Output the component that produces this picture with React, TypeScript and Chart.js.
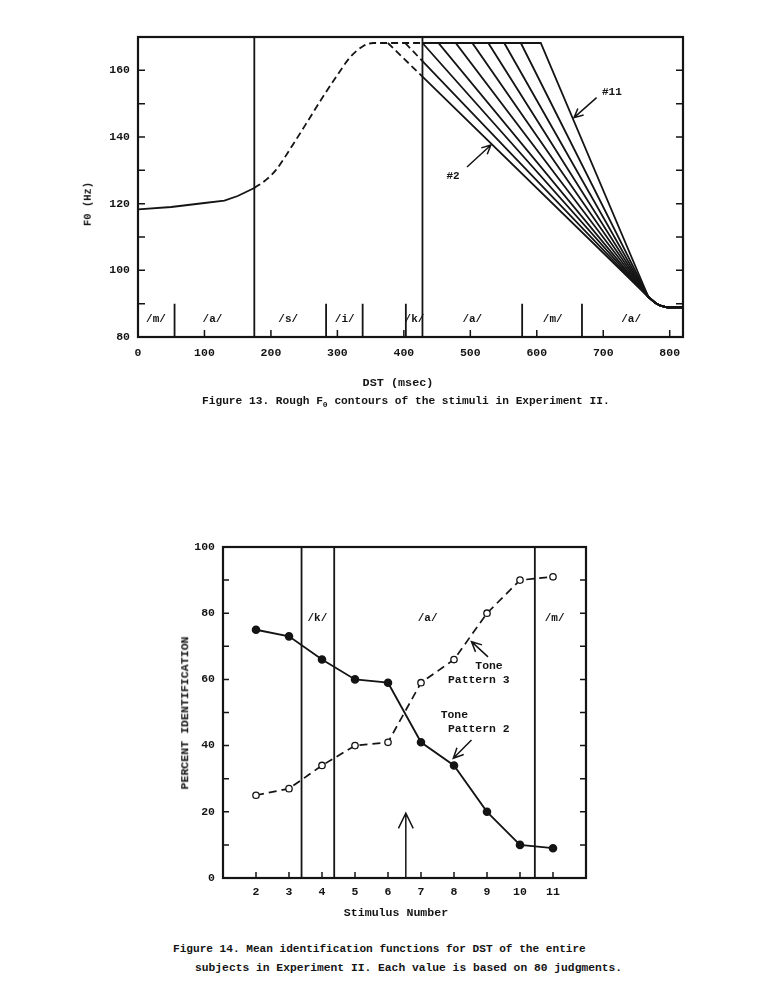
import React, { useEffect, useRef } from "react";
import { Chart, registerables } from "chart.js";

Chart.register(...registerables);

const FONT = "'Liberation Mono', 'DejaVu Sans Mono', monospace";
const INK = "#141414";

// ---------- Figure 13: rough F0 contours ----------
const f13XTicks = [0, 100, 200, 300, 400, 500, 600, 700, 800];
const f13XLabels = ["0", "100", "200", "300", "400", "500", "600", "700", "800"];
const f13YTicks = [80, 90, 100, 110, 120, 130, 140, 150, 160, 170];
const f13YLabels = ["80", "", "100", "", "120", "", "140", "", "160", ""];

const f13BaseX = [0, 50, 100, 130, 150, 175];
const f13BaseHz = [118.3, 119.0, 120.2, 120.9, 122.3, 124.7];

const f13RiseX = [175, 193, 208, 233, 254, 279, 299, 319, 339, 354, 428];
const f13RiseHz = [124.7, 127.2, 130.2, 137.7, 144.3, 152.3, 158.3, 163.9, 167.3, 168.2, 168.2];

const f13Stimuli = ["#2", "#3", "#4", "#5", "#6", "#7", "#8", "#9", "#10", "#11"];
const f13DeclineStart = [376, 402, 428, 452, 478, 503, 527, 551, 576, 606];
const f13PlateauHz = 168.2;
const f13DashUntil = 428;
const f13JoinX = 768;
const f13JoinHz = 92;
const f13TailX = [778, 786, 796, 820];
const f13TailHz = [90.3, 89.4, 88.9, 88.9];

const f13FullBounds = [175, 428];
const f13ShortBounds = [55, 283, 338, 403, 578, 668];
const f13ShortTopHz = 90;
const f13Segments = ["/m/", "/a/", "/s/", "/i/", "/k/", "/a/", "/m/", "/a/"];
const f13SegmentX = [27, 112, 226, 311, 416, 503, 624, 742];
const f13SegmentHz = 85.3;

const f13NoteText = ["#11", "#2"];
const f13NoteX = [713, 474];
const f13NoteHz = [153.5, 128.2];
const f13ArrowFromX = [690, 495];
const f13ArrowFromHz = [151.8, 131.0];
const f13ArrowToX = [656, 531];
const f13ArrowToHz = [145.8, 137.6];

// ---------- Figure 14: identification functions ----------
const f14Stimuli = [2, 3, 4, 5, 6, 7, 8, 9, 10, 11];
const f14Pattern2 = [75, 73, 66, 60, 59, 41, 34, 20, 10, 9];
const f14Pattern3 = [25, 27, 34, 40, 41, 59, 66, 80, 90, 91];
const f14XTicks = [2, 3, 4, 5, 6, 7, 8, 9, 10, 11];
const f14YTicks = [0, 10, 20, 30, 40, 50, 60, 70, 80, 90, 100];
const f14YLabels = ["0", "", "20", "", "40", "", "60", "", "80", "", "100"];
const f14Bounds = [3.38, 4.37, 10.45];
const f14Segments = ["/k/", "/a/", "/m/"];
const f14SegmentX = [3.86, 7.2, 11.05];
const f14SegmentPct = 78.4;
const f14NoteText = ["Tone", "Pattern 3", "Tone", "Pattern 2"];
const f14NoteX = [9.06, 8.75, 8.01, 8.75];
const f14NotePct = [64.0, 59.8, 49.2, 45.0];
const f14ArrowFromX = [9.03, 8.53, 6.54];
const f14ArrowFromPct = [66.8, 41.7, 0];
const f14ArrowToX = [8.53, 7.98, 6.54];
const f14ArrowToPct = [71.4, 36.2, 19.6];

function pts(xs: number[], ys: number[]) {
  return xs.map((x, i) => ({ x, y: ys[i] }));
}

function drawArrow(ctx: CanvasRenderingContext2D, x1: number, y1: number, x2: number, y2: number, head: number, spread: number) {
  const a = Math.atan2(y2 - y1, x2 - x1);
  ctx.beginPath();
  ctx.moveTo(x1, y1);
  ctx.lineTo(x2, y2);
  ctx.moveTo(x2 - head * Math.cos(a - spread), y2 - head * Math.sin(a - spread));
  ctx.lineTo(x2, y2);
  ctx.lineTo(x2 - head * Math.cos(a + spread), y2 - head * Math.sin(a + spread));
  ctx.stroke();
}

function frameAndTicks(chart: any, xTicks: number[], yTicks: number[], len: number) {
  const { ctx, chartArea: a, scales } = chart;
  ctx.save();
  ctx.strokeStyle = INK;
  ctx.lineWidth = 1.5;
  ctx.beginPath();
  yTicks.forEach((v) => {
    const py = scales.y.getPixelForValue(v);
    ctx.moveTo(a.left, py);
    ctx.lineTo(a.left + len, py);
    ctx.moveTo(a.right, py);
    ctx.lineTo(a.right - len, py);
  });
  xTicks.forEach((v) => {
    const px = scales.x.getPixelForValue(v);
    ctx.moveTo(px, a.bottom);
    ctx.lineTo(px, a.bottom - len);
  });
  ctx.stroke();
  ctx.lineWidth = 2.2;
  ctx.strokeRect(a.left, a.top, a.right - a.left, a.bottom - a.top);
  ctx.restore();
}

const f13Overlay = {
  id: "f13Overlay",
  beforeDatasetsDraw(chart: any) {
    const { ctx, chartArea: a, scales } = chart;
    ctx.save();
    ctx.strokeStyle = INK;
    ctx.lineWidth = 1.8;
    ctx.beginPath();
    f13FullBounds.forEach((v) => {
      const px = scales.x.getPixelForValue(v);
      ctx.moveTo(px, a.top);
      ctx.lineTo(px, a.bottom);
    });
    const topY = scales.y.getPixelForValue(f13ShortTopHz);
    f13ShortBounds.forEach((v) => {
      const px = scales.x.getPixelForValue(v);
      ctx.moveTo(px, topY);
      ctx.lineTo(px, a.bottom);
    });
    ctx.stroke();
    ctx.restore();
  },
  afterDraw(chart: any) {
    const { ctx, scales } = chart;
    frameAndTicks(chart, f13XTicks, f13YTicks, 7);
    ctx.save();
    ctx.fillStyle = INK;
    ctx.strokeStyle = INK;
    ctx.font = `bold 11px ${FONT}`;
    ctx.textAlign = "center";
    ctx.textBaseline = "middle";
    f13Segments.forEach((t, i) => {
      ctx.fillText(t, scales.x.getPixelForValue(f13SegmentX[i]), scales.y.getPixelForValue(f13SegmentHz));
    });
    f13NoteText.forEach((t, i) => {
      ctx.fillText(t, scales.x.getPixelForValue(f13NoteX[i]), scales.y.getPixelForValue(f13NoteHz[i]));
    });
    ctx.lineWidth = 1.5;
    f13ArrowFromX.forEach((_, i) => {
      drawArrow(
        ctx,
        scales.x.getPixelForValue(f13ArrowFromX[i]),
        scales.y.getPixelForValue(f13ArrowFromHz[i]),
        scales.x.getPixelForValue(f13ArrowToX[i]),
        scales.y.getPixelForValue(f13ArrowToHz[i]),
        10,
        0.45
      );
    });
    ctx.restore();
  },
};

const f14Overlay = {
  id: "f14Overlay",
  beforeDatasetsDraw(chart: any) {
    const { ctx, chartArea: a, scales } = chart;
    ctx.save();
    ctx.strokeStyle = INK;
    ctx.lineWidth = 1.8;
    ctx.beginPath();
    f14Bounds.forEach((v) => {
      const px = scales.x.getPixelForValue(v);
      ctx.moveTo(px, a.top);
      ctx.lineTo(px, a.bottom);
    });
    ctx.stroke();
    ctx.restore();
  },
  afterDraw(chart: any) {
    const { ctx, scales } = chart;
    frameAndTicks(chart, f14XTicks, f14YTicks, 6);
    ctx.save();
    ctx.fillStyle = INK;
    ctx.strokeStyle = INK;
    ctx.font = `bold 11px ${FONT}`;
    ctx.textAlign = "center";
    ctx.textBaseline = "middle";
    f14Segments.forEach((t, i) => {
      ctx.fillText(t, scales.x.getPixelForValue(f14SegmentX[i]), scales.y.getPixelForValue(f14SegmentPct));
    });
    ctx.font = `bold 11.4px ${FONT}`;
    f14NoteText.forEach((t, i) => {
      ctx.fillText(t, scales.x.getPixelForValue(f14NoteX[i]), scales.y.getPixelForValue(f14NotePct[i]));
    });
    ctx.lineWidth = 1.5;
    f14ArrowFromX.forEach((_, i) => {
      const big = i === 2;
      drawArrow(
        ctx,
        scales.x.getPixelForValue(f14ArrowFromX[i]),
        scales.y.getPixelForValue(f14ArrowFromPct[i]),
        scales.x.getPixelForValue(f14ArrowToX[i]),
        scales.y.getPixelForValue(f14ArrowToPct[i]),
        big ? 17 : 11,
        big ? 0.45 : 0.45
      );
    });
    ctx.restore();
  },
};

function contourPoints(start: number) {
  const out: { x: number; y: number }[] = [];
  if (start < f13DashUntil) {
    const crossHz = f13PlateauHz + ((f13JoinHz - f13PlateauHz) * (f13DashUntil - start)) / (f13JoinX - start);
    out.push({ x: start, y: f13PlateauHz }, { x: f13DashUntil, y: crossHz });
  } else {
    out.push({ x: f13DashUntil, y: f13PlateauHz });
    if (start > f13DashUntil) out.push({ x: start, y: f13PlateauHz });
  }
  out.push({ x: f13JoinX, y: f13JoinHz });
  return out.concat(pts(f13TailX, f13TailHz));
}

function fig13Config(): any {
  const lineBase = { borderColor: INK, borderWidth: 1.8, pointRadius: 0, tension: 0, fill: false };
  const datasets: any[] = [
    { ...lineBase, label: "base", data: pts(f13BaseX, f13BaseHz) },
    { ...lineBase, label: "rise", data: pts(f13RiseX, f13RiseHz), borderDash: [7, 4], cubicInterpolationMode: "monotone" },
  ];
  f13Stimuli.forEach((name, i) => {
    datasets.push({
      ...lineBase,
      label: name,
      data: contourPoints(f13DeclineStart[i]),
      borderDash: [],
      segment: {
        borderDash: (c: any) => (c.p1.parsed.x <= f13DashUntil + 0.01 ? [7, 4] : undefined),
      },
    });
  });
  return {
    type: "line",
    data: { datasets },
    options: {
      responsive: false,
      animation: false,
      events: [],
      layout: { padding: { left: 0, top: 37, right: 83, bottom: 33 } },
      plugins: { legend: { display: false }, tooltip: { enabled: false } },
      scales: {
        x: {
          type: "linear",
          min: 0,
          max: 820,
          afterFit: (s: any) => { s.height = 30; },
          afterBuildTicks: (s: any) => { s.ticks = f13XTicks.map((v) => ({ value: v })); },
          ticks: {
            callback: (_v: any, i: number) => f13XLabels[i],
            autoSkip: false,
            maxRotation: 0,
            padding: 9,
            color: INK,
            font: { family: FONT, size: 11.5, weight: "bold" },
          },
          grid: { display: false, drawTicks: false },
          border: { display: false },
        },
        y: {
          type: "linear",
          min: 80,
          max: 170,
          afterFit: (s: any) => { s.width = 138; },
          afterBuildTicks: (s: any) => { s.ticks = f13YTicks.map((v) => ({ value: v })); },
          ticks: {
            callback: (_v: any, i: number) => f13YLabels[i],
            autoSkip: false,
            padding: 8,
            color: INK,
            font: { family: FONT, size: 11.5, weight: "bold" },
          },
          grid: { display: false, drawTicks: false },
          border: { display: false },
        },
      },
    },
    plugins: [f13Overlay],
  };
}

function fig14Config(): any {
  return {
    type: "line",
    data: {
      datasets: [
        {
          label: "Tone Pattern 2",
          data: pts(f14Stimuli, f14Pattern2),
          borderColor: INK,
          borderWidth: 1.8,
          pointRadius: 3.4,
          pointBackgroundColor: INK,
          pointBorderColor: INK,
          tension: 0,
        },
        {
          label: "Tone Pattern 3",
          data: pts(f14Stimuli, f14Pattern3),
          borderColor: INK,
          borderWidth: 1.7,
          borderDash: [8, 5],
          pointRadius: 3.2,
          pointBorderWidth: 1.3,
          pointBackgroundColor: "#ffffff",
          pointBorderColor: INK,
          tension: 0,
        },
      ],
    },
    options: {
      responsive: false,
      animation: false,
      events: [],
      layout: { padding: { left: 0, top: 47, right: 180, bottom: 32 } },
      plugins: { legend: { display: false }, tooltip: { enabled: false } },
      scales: {
        x: {
          type: "linear",
          min: 1,
          max: 12,
          afterFit: (s: any) => { s.height = 30; },
          afterBuildTicks: (s: any) => { s.ticks = f14XTicks.map((v) => ({ value: v })); },
          ticks: {
            callback: (v: any) => String(v),
            autoSkip: false,
            maxRotation: 0,
            padding: 7,
            color: INK,
            font: { family: FONT, size: 11.5, weight: "bold" },
          },
          grid: { display: false, drawTicks: false },
          border: { display: false },
        },
        y: {
          type: "linear",
          min: 0,
          max: 100,
          afterFit: (s: any) => { s.width = 223; },
          afterBuildTicks: (s: any) => { s.ticks = f14YTicks.map((v) => ({ value: v })); },
          ticks: {
            callback: (_v: any, i: number) => f14YLabels[i],
            autoSkip: false,
            padding: 8,
            color: INK,
            font: { family: FONT, size: 11.5, weight: "bold" },
          },
          grid: { display: false, drawTicks: false },
          border: { display: false },
        },
      },
    },
    plugins: [f14Overlay],
  };
}

const textBase: React.CSSProperties = {
  position: "absolute",
  whiteSpace: "nowrap",
  fontFamily: FONT,
  fontWeight: "bold",
  color: INK,
  lineHeight: 1,
};

export default function App() {
  const c1 = useRef<HTMLCanvasElement>(null);
  const c2 = useRef<HTMLCanvasElement>(null);

  useEffect(() => {
    const ch1 = new Chart(c1.current as HTMLCanvasElement, fig13Config());
    const ch2 = new Chart(c2.current as HTMLCanvasElement, fig14Config());
    return () => {
      ch1.destroy();
      ch2.destroy();
    };
  }, []);

  return (
    <div style={{ position: "absolute", left: 0, top: 0, width: 766, height: 1002, background: "#fff", overflow: "hidden" }}>
      <canvas ref={c1} width={766} height={400} style={{ position: "absolute", left: 0, top: 0 }} />
      <canvas ref={c2} width={766} height={440} style={{ position: "absolute", left: 0, top: 500 }} />

      <div style={{ ...textBase, fontSize: 10.5, left: 88, top: 204, transform: "translate(-50%,-50%) rotate(-90deg)" }}>F0 (Hz)</div>
      <div style={{ ...textBase, fontSize: 11.8, left: 398, top: 384, transform: "translate(-50%,-50%)" }}>DST (msec)</div>
      <div style={{ ...textBase, fontSize: 11.2, left: 202, top: 402, transform: "translate(0,-50%)" }}>
        Figure 13. Rough F<span style={{ fontSize: 8, verticalAlign: "-3px" }}>0</span> contours of the stimuli in Experiment II.
      </div>

      <div style={{ ...textBase, fontSize: 11.6, left: 185, top: 713, transform: "translate(-50%,-50%) rotate(-90deg)" }}>PERCENT IDENTIFICATION</div>
      <div style={{ ...textBase, fontSize: 11.6, left: 396, top: 913, transform: "translate(-50%,-50%)" }}>Stimulus Number</div>
      <div style={{ ...textBase, fontSize: 11.1, left: 173, top: 950, transform: "translate(0,-50%)" }}>
        Figure 14. Mean identification functions for DST of the entire
      </div>
      <div style={{ ...textBase, fontSize: 11.3, left: 195, top: 969, transform: "translate(0,-50%)" }}>
        subjects in Experiment II. Each value is based on 80 judgments.
      </div>
    </div>
  );
}
